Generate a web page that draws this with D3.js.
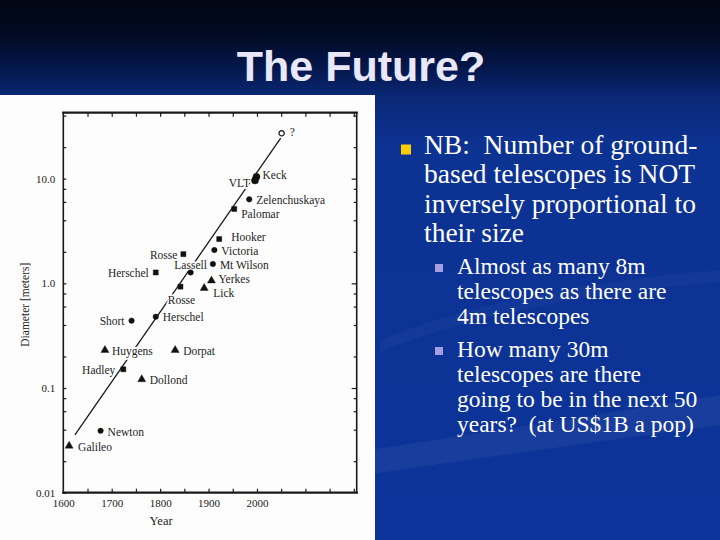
<!DOCTYPE html>
<html><head><meta charset="utf-8">
<script src="https://cdn.jsdelivr.net/npm/d3@7"></script>
<style>html,body{margin:0;padding:0;background:#0c3399;} svg{display:block}</style>
</head><body>
<svg id="c" width="720" height="540"></svg>
<script>
// ---------- data ----------
const names = ["Galileo","Newton","Huygens","Hadley","Short","Dollond","Herschel","Herschel","Dorpat","Rosse","Rosse","Lassell","Lick","Yerkes","Mt Wilson","Victoria","Hooker","Palomar","Zelenchuskaya","VLT","Keck","?"];
const years = [1612, 1677, 1686, 1724, 1741, 1762, 1791, 1791, 1831, 1842, 1848, 1863, 1891, 1906, 1909, 1912, 1922, 1953, 1984, 1996, 1999, 2051];
const diameters = [0.028, 0.039, 0.23, 0.151, 0.44, 0.121, 0.48, 1.27, 0.23, 0.93, 1.9, 1.27, 0.9, 1.06, 1.53, 2.08, 2.65, 5.13, 6.34, 9.6, 10.4, 27.1];
const kinds = ["tri","circle","tri","square","circle","tri","circle","square","tri","square","square","circle","tri","tri","circle","circle","square","square","circle","circle","circle","open"];
const trendYears = [1624, 2049];
const trendDiameters = [0.0356, 24.4];
const yearTicks = [1600, 1700, 1800, 1900, 2000];
const diameterTicks = [0.01, 0.1, 1, 10];
const diameterTickLabels = ["0.01", "0.1", "1.0", "10.0"];
const xTitle = "Year";
const yTitle = "Diameter [meters]";
const title = "The Future?";
const mainBullet = ["NB:  Number of ground-", "based telescopes is NOT", "inversely proportional to", "their size"];
const subBullets = [
  ["Almost as many 8m", "telescopes as there are", "4m telescopes"],
  ["How many 30m", "telescopes are there", "going to be in the next 50", "years?  (at US$1B a pop)"]
];
// label layout (offsets from marker, in px) – kept apart from the data
const labelLayout = [
  [9,1,"start"],[7,1,"start"],[7,1,"start"],[-8,1,"end"],[-7,1,"end"],[8,1,"start"],[7,1,"start"],[-7,1,"end"],
  [8,1,"start"],[1,14,"middle"],[-6,1,"end"],[0,-7,"middle"],[9,5,"start"],[7,-1,"start"],[7,1,"start"],[7,1,"start"],
  [12,-2,"start"],[7,5,"start"],[7,1,"start"],[-5,3,"end"],[6,-2,"start"],[8,-1,"start"]
];
const keepSpaces = s => s.replace(/  /g, " \u00A0");

// ---------- canvas ----------
const svg = d3.select("#c");
const defs = svg.append("defs");
const bg = defs.append("linearGradient").attr("id","bg").attr("x1",0).attr("y1",0).attr("x2",0).attr("y2",1);
[[0,"#000611"],[0.06,"#010a22"],[0.12,"#041647"],[0.18,"#0a2876"],[0.27,"#0c3292"],[1,"#0c3399"]]
  .forEach(([o,c])=>bg.append("stop").attr("offset",o).attr("stop-color",c));
svg.append("rect").attr("width",720).attr("height",540).attr("fill","url(#bg)");
// faint swooshes
svg.append("path").attr("d","M0,520 C200,470 450,440 720,395 L720,425 C470,460 230,490 0,540 Z")
  .attr("fill","#ffffff").attr("opacity",0.05);
svg.append("path").attr("d","M380,340 C480,300 600,280 720,270 L720,282 C600,292 480,312 380,352 Z")
  .attr("fill","#ffffff").attr("opacity",0.03);

// title
svg.append("text").attr("x",361).attr("y",81).attr("text-anchor","middle")
  .attr("font-family","'Liberation Sans', Arial, sans-serif").attr("font-weight","bold")
  .attr("font-size",43).attr("fill","#e8e8fa").text(title);

// white panel
svg.append("rect").attr("x",0).attr("y",95).attr("width",375).attr("height",445).attr("fill","#fdfdfd");

// ---------- chart ----------
const x = d3.scaleLinear().domain([1600, 2206]).range([63.3, 356.7]);
const y = d3.scaleLog().domain([0.01, Math.pow(10,1.63)]).range([492.7, 112.7]);
const chart = svg.append("g").attr("font-family","'Liberation Serif', 'Times New Roman', serif").attr("fill","#222");
const ink = "#1a1a1a";

const minorY = [];
diameterTicks.forEach(d => [2,4,6,8].forEach(k => { const v = d*k; if (v < y.domain()[1]) minorY.push(v); }));
const yearMinor = d3.range(1650, 2201, 50);

function styleAxis(g){ g.select(".domain").remove(); g.selectAll("line").attr("stroke",ink).attr("stroke-width",1.2); g.selectAll("text").attr("fill","#222").attr("font-family","'Liberation Serif', serif").attr("font-size",11); }

// ticks
chart.append("g").attr("transform",`translate(0,${y.range()[0]})`)
  .call(d3.axisBottom(x).tickValues(yearMinor).tickSize(-4).tickFormat("")).call(styleAxis);
chart.append("g").attr("transform",`translate(0,${y.range()[0]})`)
  .call(d3.axisBottom(x).tickValues(yearTicks).tickSize(0).tickPadding(7).tickFormat(d3.format("d"))).call(styleAxis);
chart.append("g").attr("transform",`translate(0,${y.range()[1]})`)
  .call(d3.axisTop(x).tickValues(yearMinor).tickSize(-4).tickFormat("")).call(styleAxis);
chart.append("g").attr("transform",`translate(${x.range()[0]},0)`)
  .call(d3.axisLeft(y).tickValues(minorY).tickSize(-3).tickFormat("")).call(styleAxis);
chart.append("g").attr("transform",`translate(${x.range()[0]},0)`)
  .call(d3.axisLeft(y).tickValues(diameterTicks).tickSize(-3).tickPadding(8).tickFormat((d,i)=>diameterTickLabels[i])).call(styleAxis);
chart.append("g").attr("transform",`translate(${x.range()[1]},0)`)
  .call(d3.axisRight(y).tickValues(minorY).tickSize(-3).tickFormat("")).call(styleAxis);
chart.append("g").attr("transform",`translate(${x.range()[1]},0)`)
  .call(d3.axisRight(y).tickValues(diameterTicks.slice(1)).tickSize(-5).tickFormat("")).call(styleAxis);

// frame
const [x0,x1] = x.range(), [y0,y1] = y.range();
const frame = [[[x0,y1],[x1,y1],2.2],[[x0,y0],[x1,y0],2.2],[[x0,y1],[x0,y0],1.6],[[x1,y1],[x1,y0],1.6]];
frame.forEach(([a,b,w]) => chart.append("line").attr("x1",a[0]).attr("y1",a[1]).attr("x2",b[0]).attr("y2",b[1])
  .attr("stroke",ink).attr("stroke-width",w).attr("stroke-linecap","square"));

// axis titles
chart.append("text").attr("x",x(1800)+1).attr("y",525).attr("text-anchor","middle").attr("font-size",12.5).text(xTitle);
chart.append("text").attr("transform",`translate(29,${(y0+y1)/2+2}) rotate(-90)`).attr("text-anchor","middle")
  .attr("font-size",11.5).text(yTitle);

// trend line
chart.append("path").datum(trendYears.map((t,i)=>[t,trendDiameters[i]]))
  .attr("d", d3.line().x(d=>x(d[0])).y(d=>y(d[1])))
  .attr("stroke",ink).attr("stroke-width",1.3).attr("fill","none");

// labels (with white halo that breaks the line like the original)
const pts = names.map((n,i)=>({name:n, year:years[i], d:diameters[i], kind:kinds[i], lay:labelLayout[i]}));
chart.append("g").selectAll("text").data(pts).join("text")
  .attr("x", p => x(p.year)+p.lay[0]).attr("y", p => y(p.d)+p.lay[1]).attr("dy","0.33em")
  .attr("text-anchor", p => p.lay[2]).attr("font-size",11.5).attr("fill","#1e1e1e")
  .attr("stroke","#fdfdfd").attr("stroke-width",3.5).attr("paint-order","stroke").attr("stroke-linejoin","round")
  .text(p => p.name);

// markers
const symType = {tri:d3.symbolTriangle, circle:d3.symbolCircle, square:d3.symbolSquare, open:d3.symbolCircle};
const symSize = {tri:28, circle:24, square:26, open:22};
chart.append("g").selectAll("path").data(pts).join("path")
  .attr("transform", p => `translate(${x(p.year)},${y(p.d)})`)
  .attr("d", p => d3.symbol().type(symType[p.kind]).size((p.name==="VLT"||p.name==="Keck") ? 40 : symSize[p.kind])())
  .attr("fill", p => p.kind==="open" ? "#fdfdfd" : "#111")
  .attr("stroke", "#111").attr("stroke-width", p => p.kind==="open" ? 1.2 : 0.4);

// ---------- bullet text ----------
const txt = svg.append("g").attr("font-family","'Liberation Serif', 'Times New Roman', serif").attr("fill","#ffffff");
svg.append("rect").attr("x",401).attr("y",144.5).attr("width",10).attr("height",10).attr("fill","#ffcc00");
mainBullet.forEach((line,i)=> txt.append("text").attr("x",424).attr("y",154+i*29.3).attr("font-size",27.5).text(keepSpaces(line)));
let by = 274;
subBullets.forEach((lines,k)=>{
  svg.append("rect").attr("x",435).attr("y",by-10).attr("width",8).attr("height",8).attr("fill","#a49ee2");
  lines.forEach((line,i)=> txt.append("text").attr("x",457).attr("y",by+i*25).attr("font-size",23.5).text(keepSpaces(line)));
  by += lines.length*25 + 8;
});
</script>
</body></html>
